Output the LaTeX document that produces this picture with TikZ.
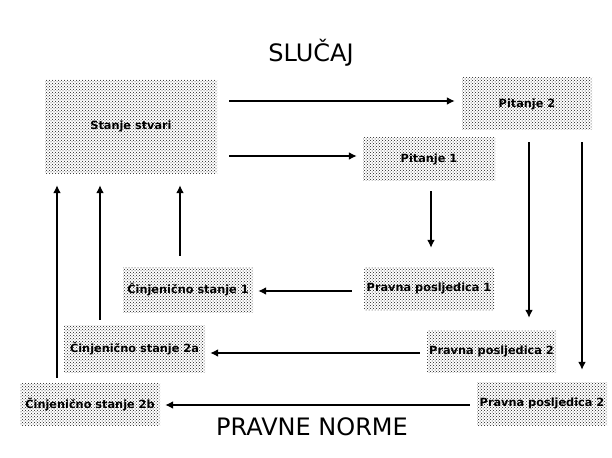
\documentclass[tikz,border=0pt]{standalone}
\usepackage{fontspec}
\setmainfont{DejaVu Sans}
\usetikzlibrary{arrows.meta,patterns}
\begin{document}
\begin{tikzpicture}[x=1pt,y=-1pt,
  box/.style={pattern=crosshatch dots, pattern color=black!90, inner sep=0pt,
    font=\bfseries\fontsize{11.3}{12}\selectfont},
  arr/.style={line width=1.8pt, -{Latex[length=8pt,width=8pt]}},
  title/.style={font=\fontsize{24}{26}\selectfont}]
\useasboundingbox (0,0) rectangle (612,457);
\node[box, minimum width=172pt, minimum height=93pt] (ss) at (131,126.5) {Stanje stvari};
\node[box, minimum width=130pt, minimum height=52pt] (p2) at (527,104) {Pitanje 2};
\node[box, minimum width=132pt, minimum height=42pt] (p1) at (429,159) {Pitanje 1};
\node[box, minimum width=130pt, minimum height=45pt] (c1) at (188,289.5) {Činjenično stanje 1};
\node[box, minimum width=130pt, minimum height=43pt] (pp1) at (429,288.5) {Pravna posljedica 1};
\node[box, minimum width=129pt, minimum height=42pt] (pp2a) at (491.5,351) {Pravna posljedica 2};
\node[box, minimum width=130pt, minimum height=43pt] (pp2b) at (542,403.5) {Pravna posljedica 2};
\node[box, minimum width=141pt, minimum height=47pt] (c2a) at (134.5,348.5) {Činjenično stanje 2a};
\node[box, minimum width=140pt, minimum height=42pt] (c2b) at (90,404) {Činjenično stanje 2b};
\node[title] (t1) at (311,53) {SLUČAJ};
\node[title] (t2) at (312,427) {PRAVNE NORME};
% arrows
\draw[arr] ([xshift=12pt]ss.east |- 0,101) -- ([xshift=-7pt]p2.west |- 0,101);
\draw[arr] ([xshift=12pt]ss.east |- 0,156) -- ([xshift=-6pt]p1.west |- 0,156);
\draw[arr] ([yshift=-11pt]p1.south -| 431,0) -- ([yshift=19pt]pp1.north -| 431,0);
\draw[arr] ([yshift=-12pt]p2.south -| 529,0) -- ([yshift=12pt]pp2a.north -| 529,0);
\draw[arr] ([yshift=-12pt]p2.south -| 582,0) -- ([yshift=12pt]pp2b.north -| 582,0);
\draw[arr] ([xshift=-12pt]pp1.west |- 0,291) -- ([xshift=5pt]c1.east |- 0,291);
\draw[arr] ([xshift=-7pt]pp2a.west |- 0,353) -- ([xshift=5pt]c2a.east |- 0,353);
\draw[arr] ([xshift=-7pt]pp2b.west |- 0,405) -- ([xshift=5pt]c2b.east |- 0,405);
\draw[arr] ([yshift=11pt]c1.north -| 180,0) -- ([yshift=-12pt]ss.south -| 180,0);
\draw[arr] ([yshift=5pt]c2a.north -| 100,0) -- ([yshift=-12pt]ss.south -| 100,0);
\draw[arr] ([yshift=5pt]c2b.north -| 57,0) -- ([yshift=-12pt]ss.south -| 57,0);
\end{tikzpicture}
\end{document}
